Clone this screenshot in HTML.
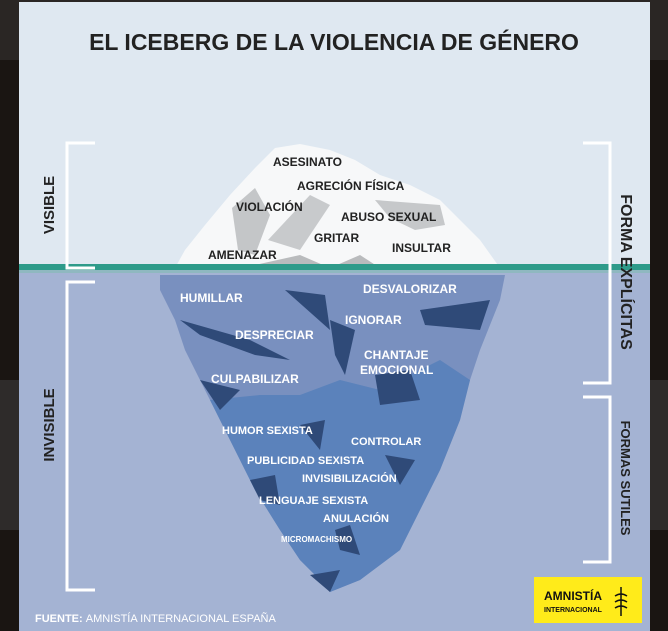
<!DOCTYPE html>
<html><head><meta charset="utf-8"><style>
html,body{margin:0;padding:0;background:#1a1512;}
svg{display:block}
text{font-family:"Liberation Sans",sans-serif;font-weight:bold}
</style></head><body>
<svg width="668" height="631" viewBox="0 0 668 631" xmlns="http://www.w3.org/2000/svg">
<rect width="668" height="631" fill="#1a1512"/>
<rect x="0" y="0" width="668" height="60" fill="#2a2624"/>
<rect x="0" y="380" width="668" height="150" fill="#2e2b2a"/>
<rect x="19" y="2" width="631" height="629" fill="#dfe8f1"/>
<rect x="19" y="268" width="631" height="363" fill="#a4b3d3"/>
<!-- top iceberg -->
<polygon points="175,268 185,250 205,225 230,195 255,168 275,148 300,144 330,150 355,160 380,175 410,185 440,200 460,220 480,240 500,268" fill="#f7f8f9"/>
<polygon points="232,208 255,188 270,215 255,255 238,250" fill="#c4c6c8"/>
<polygon points="268,240 310,195 330,205 300,250" fill="#c8cacc"/>
<polygon points="375,200 440,205 445,225 415,230 390,218" fill="#c6c8ca"/>
<polygon points="255,265 300,255 330,268" fill="#b9bbbd"/>
<polygon points="330,268 360,255 380,268" fill="#b9bbbd"/>
<!-- waterline -->
<rect x="19" y="264" width="631" height="6" fill="#2e9b8a"/>
<rect x="19" y="270" width="631" height="3" fill="#8fb8c0"/>
<!-- underwater iceberg -->
<polygon points="160,275 505,275 500,300 480,350 470,380 460,420 440,470 420,510 400,550 360,580 330,592 315,575 300,560 280,530 255,490 230,440 210,400 185,350 175,320 160,290" fill="#7990bf"/>
<polygon points="210,400 260,395 300,395 340,380 380,390 440,360 470,380 460,420 440,470 420,510 400,550 360,580 330,592 315,575 300,560 280,530 255,490 230,440" fill="#5b82bb"/>
<polygon points="285,290 325,295 330,330" fill="#2f4a78"/>
<polygon points="180,320 250,340 290,360 255,355 200,335" fill="#2f4a78"/>
<polygon points="330,320 355,330 345,375 335,355" fill="#2f4a78"/>
<polygon points="420,310 490,300 480,330 425,325" fill="#2f4a78"/>
<polygon points="375,375 410,370 420,400 380,405" fill="#2f4a78"/>
<polygon points="200,380 240,390 220,410" fill="#2f4a78"/>
<polygon points="300,425 325,420 320,450" fill="#2f4a78"/>
<polygon points="385,455 415,460 400,485" fill="#2f4a78"/>
<polygon points="250,480 275,475 280,505 260,500" fill="#2f4a78"/>
<polygon points="335,530 350,525 360,555 340,550" fill="#2f4a78"/>
<polygon points="310,575 340,570 330,592" fill="#2f4a78"/>
<!-- title -->
<text x="334" y="50" font-size="23" text-anchor="middle" fill="#222">EL ICEBERG DE LA VIOLENCIA DE GÉNERO</text>
<!-- brackets -->
<g fill="none" stroke="#fff" stroke-width="3">
<polyline points="95,143 67,143 67,268 95,268"/>
<polyline points="95,282 67,282 67,590 95,590"/>
<polyline points="583,143 610,143 610,383 583,383"/>
<polyline points="583,397 610,397 610,562 583,562"/>
</g>
<text transform="translate(54,205) rotate(-90)" font-size="15" text-anchor="middle" fill="#222">VISIBLE</text>
<text transform="translate(54,425) rotate(-90)" font-size="15" text-anchor="middle" fill="#222">INVISIBLE</text>
<text transform="translate(621,272) rotate(90)" font-size="16" text-anchor="middle" fill="#222">FORMA EXPLÍCITAS</text>
<text transform="translate(621,478) rotate(90)" font-size="13" text-anchor="middle" fill="#222">FORMAS SUTILES</text>
<!-- top labels -->
<g font-size="12" fill="#222">
<text x="273" y="166">ASESINATO</text>
<text x="297" y="190">AGRECIÓN FÍSICA</text>
<text x="236" y="211">VIOLACIÓN</text>
<text x="341" y="221">ABUSO SEXUAL</text>
<text x="314" y="242">GRITAR</text>
<text x="392" y="252">INSULTAR</text>
<text x="208" y="259">AMENAZAR</text>
</g>
<!-- bottom labels -->
<g font-size="12" fill="#fff">
<text x="180" y="302">HUMILLAR</text>
<text x="363" y="293">DESVALORIZAR</text>
<text x="345" y="324">IGNORAR</text>
<text x="235" y="339">DESPRECIAR</text>
<text x="364" y="359">CHANTAJE</text>
<text x="360" y="374">EMOCIONAL</text>
<text x="211" y="383">CULPABILIZAR</text>
<text x="222" y="434" font-size="11">HUMOR SEXISTA</text>
<text x="351" y="445" font-size="11">CONTROLAR</text>
<text x="247" y="464" font-size="11">PUBLICIDAD SEXISTA</text>
<text x="302" y="482" font-size="11">INVISIBILIZACIÓN</text>
<text x="259" y="504" font-size="11">LENGUAJE SEXISTA</text>
<text x="323" y="522" font-size="11">ANULACIÓN</text>
<text x="281" y="542" font-size="8">MICROMACHISMO</text>
</g>
<text x="35" y="622" font-size="11" fill="#fff">FUENTE: <tspan font-weight="normal">AMNISTÍA INTERNACIONAL ESPAÑA</tspan></text>
<!-- logo -->
<rect x="534" y="577" width="108" height="46" fill="#ffeb1a"/>
<text x="544" y="600" font-size="12" fill="#111">AMNISTÍA</text>
<text x="544" y="612" font-size="7" fill="#111">INTERNACIONAL</text>
<g stroke="#111" stroke-width="1.5" fill="none">
<line x1="621" y1="587" x2="621" y2="616"/>
<path d="M615,596 q6,-4 12,0 M615,602 q6,-4 12,0 M615,608 q6,-4 12,0"/>
</g>
</svg>
</body></html>
